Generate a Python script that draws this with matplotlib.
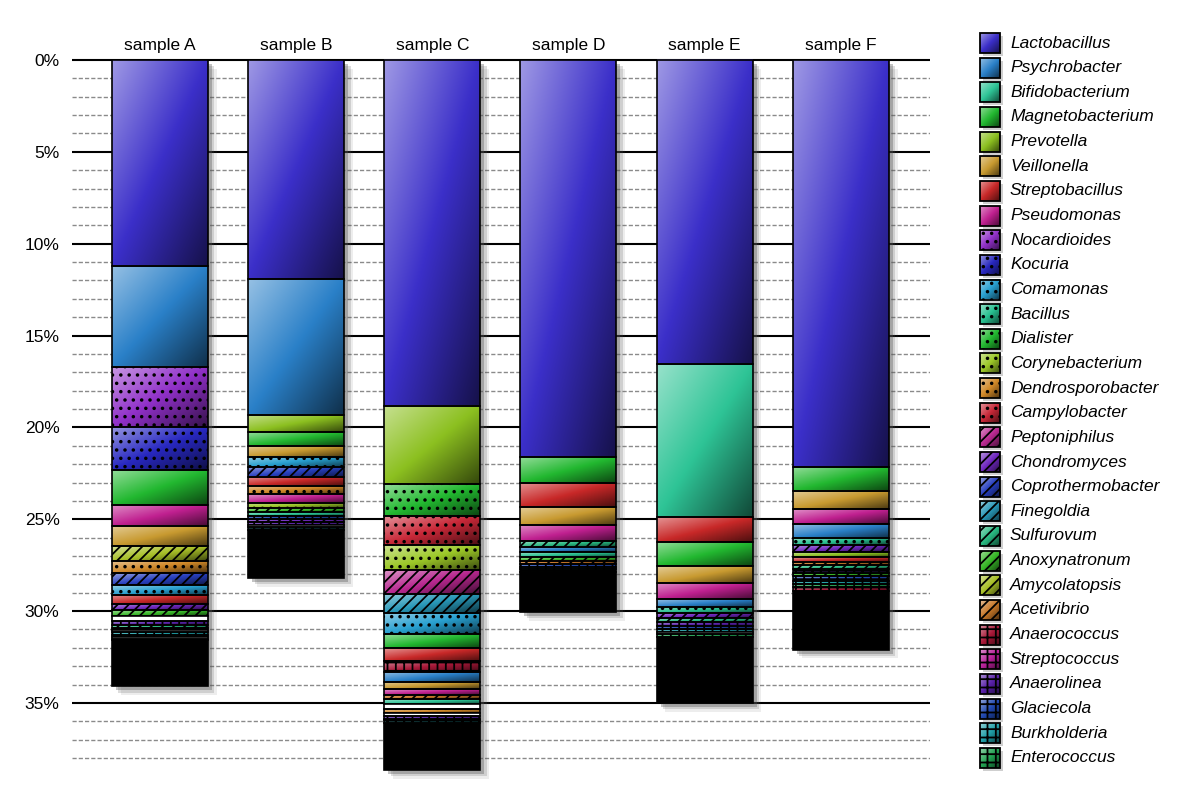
import numpy as np
import matplotlib
matplotlib.use('Agg')
import matplotlib.pyplot as plt
from matplotlib.patches import Rectangle
from matplotlib.colors import to_rgb

plt.rcParams['font.family'] = ['Liberation Sans', 'DejaVu Sans']
plt.rcParams['hatch.linewidth'] = 1.3

# --- taxa, in legend order ---
taxa = ['Lactobacillus', 'Psychrobacter', 'Bifidobacterium', 'Magnetobacterium',
        'Prevotella', 'Veillonella', 'Streptobacillus', 'Pseudomonas',
        'Nocardioides', 'Kocuria', 'Comamonas', 'Bacillus', 'Dialister',
        'Corynebacterium', 'Dendrosporobacter', 'Campylobacter',
        'Peptoniphilus', 'Chondromyces', 'Coprothermobacter', 'Finegoldia',
        'Sulfurovum', 'Anoxynatronum', 'Amycolatopsis', 'Acetivibrio',
        'Anaerococcus', 'Streptococcus', 'Anaerolinea', 'Glaciecola',
        'Burkholderia', 'Enterococcus']
taxa_colors = ['#3b2fc9', '#2a80c8', '#2ec496', '#22b830',
               '#8cc020', '#c89a30', '#c82828', '#c02090',
               '#9030c8', '#2828c0', '#28a0d0', '#28c090', '#22b830',
               '#9cc828', '#d08828', '#c82838',
               '#b82890', '#7028c0', '#2840c0', '#2898b8',
               '#28b880', '#38b828', '#a8c028', '#c87828',
               '#a81838', '#b82098', '#5820a8', '#2048b0',
               '#20a0a8', '#20a050']

samples = ['sample A', 'sample B', 'sample C', 'sample D', 'sample E', 'sample F']

# stacking order from the top; 'unclassified' = thin white bands, 'others' = black remainder
a_taxa = ['Lactobacillus', 'Psychrobacter', 'Nocardioides', 'Kocuria', 'Magnetobacterium',
          'Pseudomonas', 'Veillonella', 'Amycolatopsis', 'Dendrosporobacter',
          'Coprothermobacter', 'Comamonas', 'Streptobacillus', 'Chondromyces',
          'Anoxynatronum', 'unclassified', 'Anaerolinea', 'Sulfurovum', 'Glaciecola',
          'unclassified', 'Burkholderia', 'Enterococcus', 'unclassified', 'Anaerococcus',
          'others']
a_values = [11.2, 5.5, 3.3, 2.3, 1.9, 1.15, 1.1, 0.8, 0.7, 0.65, 0.5, 0.5, 0.35,
            0.3, 0.3, 0.2, 0.15, 0.15, 0.1, 0.15, 0.1, 0.1, 0.1, 2.5]

b_taxa = ['Lactobacillus', 'Psychrobacter', 'Prevotella', 'Magnetobacterium', 'Veillonella',
          'Comamonas', 'Coprothermobacter', 'Streptobacillus', 'Dendrosporobacter',
          'Pseudomonas', 'Corynebacterium', 'Anoxynatronum', 'Bacillus', 'Glaciecola',
          'Chondromyces', 'Anaerolinea', 'unclassified', 'Burkholderia', 'others']
b_values = [11.9, 7.4, 0.95, 0.75, 0.6, 0.55, 0.55, 0.5, 0.45, 0.45, 0.3, 0.2, 0.2,
            0.2, 0.15, 0.15, 0.1, 0.2, 2.6]

c_taxa = ['Lactobacillus', 'Prevotella', 'Dialister', 'Campylobacter', 'Corynebacterium',
          'Peptoniphilus', 'Finegoldia', 'Comamonas', 'Magnetobacterium', 'Streptobacillus',
          'Anaerococcus', 'Psychrobacter', 'Veillonella', 'Pseudomonas', 'Acetivibrio',
          'Bifidobacterium', 'unclassified', 'Dendrosporobacter', 'unclassified',
          'Anaerolinea', 'Glaciecola', 'Burkholderia', 'others']
c_values = [18.85, 4.25, 1.7, 1.6, 1.35, 1.3, 1.05, 1.15, 0.75, 0.7, 0.6, 0.55, 0.4,
            0.3, 0.25, 0.25, 0.3, 0.2, 0.15, 0.15, 0.1, 0.15, 2.55]

d_taxa = ['Lactobacillus', 'Magnetobacterium', 'Streptobacillus', 'Veillonella',
          'Pseudomonas', 'Sulfurovum', 'Psychrobacter', 'Bacillus', 'Anoxynatronum',
          'Acetivibrio', 'Glaciecola', 'Burkholderia', 'Enterococcus', 'others']
d_values = [21.6, 1.4, 1.35, 0.95, 0.9, 0.3, 0.3, 0.25, 0.2, 0.2, 0.15, 0.1, 0.15, 2.2]

e_taxa = ['Lactobacillus', 'Bifidobacterium', 'Streptobacillus', 'Magnetobacterium',
          'Veillonella', 'Pseudomonas', 'Psychrobacter', 'Bacillus', 'Chondromyces',
          'Sulfurovum', 'Anaerolinea', 'Glaciecola', 'Burkholderia', 'unclassified',
          'Enterococcus', 'others']
e_values = [16.55, 8.35, 1.35, 1.3, 0.9, 0.9, 0.4, 0.35, 0.3, 0.2, 0.2, 0.2, 0.15,
            0.1, 0.15, 3.6]

f_taxa = ['Lactobacillus', 'Magnetobacterium', 'Veillonella', 'Pseudomonas', 'Psychrobacter',
          'Bacillus', 'Chondromyces', 'Prevotella', 'Streptobacillus', 'Acetivibrio',
          'Sulfurovum', 'Anaerolinea', 'Anoxynatronum', 'Glaciecola', 'Burkholderia',
          'Enterococcus', 'Anaerococcus', 'others']
f_values = [22.15, 1.3, 1.0, 0.8, 0.75, 0.4, 0.4, 0.25, 0.25, 0.2, 0.2, 0.2, 0.2,
            0.25, 0.2, 0.15, 0.2, 3.2]

sample_taxa = [a_taxa, b_taxa, c_taxa, d_taxa, e_taxa, f_taxa]
sample_values = [a_values, b_values, c_values, d_values, e_values, f_values]

major_ticks = np.arange(0, 36, 5)
minor_ticks = [v for v in range(1, 39) if v % 5]

# --- styling ---
taxa_hatches = [''] * 8 + ['..'] * 8 + ['///'] * 8 + ['++'] * 6
style = {t: (c, h) for t, c, h in zip(taxa, taxa_colors, taxa_hatches)}
BAR_W = 0.705


def gradient(color, n=40):
    base = np.array(to_rgb(color))
    u = np.linspace(0, 1, n)
    t = ((u[None, :] + u[:, None]) / 2)[..., None]
    light = base + (1 - base) * 0.5
    dark = base * 0.38
    up = light + (base - light) * np.clip(t / 0.5, 0, 1)
    down = base + (dark - base) * np.clip((t - 0.5) / 0.5, 0, 1)
    return np.where(t < 0.5, up, down)


def draw_block(ax, x0, x1, y0, y1, name, lw=1.2):
    if name in ('others', 'unclassified'):
        fc = 'black' if name == 'others' else 'white'
        ax.add_patch(Rectangle((x0, y0), x1 - x0, y1 - y0, facecolor=fc,
                               edgecolor='black', lw=lw, zorder=3))
        return
    color, hatch = style[name]
    ax.imshow(gradient(color), extent=(x0, x1, y1, y0), aspect='auto',
              interpolation='bilinear', zorder=2)
    ax.add_patch(Rectangle((x0, y0), x1 - x0, y1 - y0, fill=False, hatch=hatch,
                           edgecolor='black', lw=lw, zorder=3))


fig = plt.figure(figsize=(12, 8), dpi=100)
ylim = (39.2, -0.1)
px_per_pct = 18.37
ax_top = 60 + ylim[1] * px_per_pct
ax_bot = 60 + ylim[0] * px_per_pct
ax = fig.add_axes([72 / 1200, 1 - ax_bot / 800, 858 / 1200, (ax_bot - ax_top) / 800])

# shadows
dx, dy = 4 / 136.2, 4 / px_per_pct
for i, vals in enumerate(sample_values):
    total = sum(vals)
    for k, a in zip((1.0, 1.6, 2.2), (0.35, 0.2, 0.1)):
        ax.add_patch(Rectangle((i - BAR_W / 2 + dx * k, dy * k), BAR_W, total,
                               facecolor='#555555', edgecolor='none', alpha=a,
                               zorder=1, clip_on=False))

# stacked segments
for i, (names, vals) in enumerate(zip(sample_taxa, sample_values)):
    tops = np.concatenate([[0], np.cumsum(vals)[:-1]])
    for name, top, v in zip(names, tops, vals):
        draw_block(ax, i - BAR_W / 2, i + BAR_W / 2, top, top + v, name)

ax.set_xlim(-0.646, 5.655)
ax.set_ylim(*ylim)
ax.set_yticks(major_ticks)
ax.set_yticklabels([f'{v}%' for v in major_ticks], fontsize=12.5)
ax.set_yticks(minor_ticks, minor=True)
ax.grid(which='major', axis='y', color='black', lw=1.5, zorder=0)
ax.grid(which='minor', axis='y', color='#8a8a8a', lw=1.0, ls=(0, (3, 1.5)), zorder=0)
ax.set_axisbelow(True)
ax.xaxis.tick_top()
ax.set_xticks(range(len(samples)))
ax.set_xticklabels(samples, fontsize=12.5)
ax.tick_params(axis='both', which='both', length=0)
ax.tick_params(axis='y', pad=9)
ax.tick_params(axis='x', pad=4)
for s in ax.spines.values():
    s.set_visible(False)

# legend, drawn in pixel units
lax = fig.add_axes([970 / 1200, 0, 230 / 1200, 1])
lax.axis('off')
for j, name in enumerate(taxa):
    yc = 43 + j * 24.65
    lax.add_patch(Rectangle((983, yc - 7), 20, 20, facecolor='#777777',
                            edgecolor='none', alpha=0.35, zorder=1))
    draw_block(lax, 980, 1000, yc - 10, yc + 10, name, lw=1.3)
    lax.text(1010, yc, name, fontsize=12.5, style='italic', va='center', ha='left')
lax.set_xlim(970, 1200)
lax.set_ylim(800, 0)

fig.savefig('out.png', dpi=100)
